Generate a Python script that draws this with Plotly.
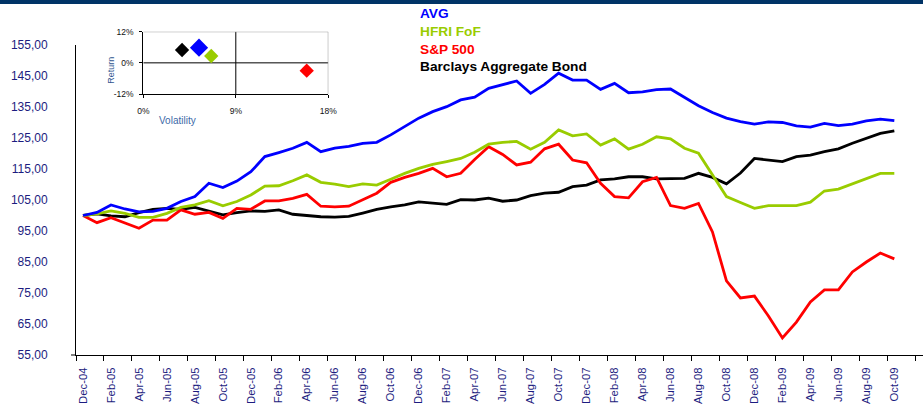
import plotly.graph_objects as go

# ---------------- data ----------------
tick_labels = ["Dec-04", "Feb-05", "Apr-05", "Jun-05", "Aug-05", "Oct-05", "Dec-05",
               "Feb-06", "Apr-06", "Jun-06", "Aug-06", "Oct-06", "Dec-06",
               "Feb-07", "Apr-07", "Jun-07", "Aug-07", "Oct-07", "Dec-07",
               "Feb-08", "Apr-08", "Jun-08", "Aug-08", "Oct-08", "Dec-08",
               "Feb-09", "Apr-09", "Jun-09", "Aug-09", "Oct-09", "Dec-09"]

avg = [100.0, 101.0, 103.4, 102.1, 101.2, 101.3, 102.3, 104.5, 106.1, 110.4,
       109.0, 111.1, 114.1, 119.0, 120.3, 121.7, 123.6, 120.6, 121.7, 122.3,
       123.3, 123.6, 126.0, 128.7, 131.4, 133.5, 135.1, 137.3, 138.2, 141.0,
       142.1, 143.4, 139.4, 142.3, 145.9, 143.7, 143.7, 140.7, 142.6, 139.6,
       139.9, 140.6, 140.8, 138.1, 135.4, 133.2, 131.4, 130.3, 129.5, 130.2,
       130.0, 128.9, 128.5, 129.7, 129.0, 129.5, 130.5, 131.1, 130.6]

hfri = [100.0, 100.5, 101.5, 100.7, 99.4, 99.4, 100.7, 102.6, 103.4, 104.8,
        103.1, 104.5, 106.6, 109.5, 109.6, 111.2, 113.1, 110.7, 110.1, 109.3,
        110.2, 109.8, 111.7, 113.6, 115.2, 116.5, 117.4, 118.4, 120.4, 123.0,
        123.6, 123.9, 121.4, 123.6, 127.6, 125.7, 126.3, 122.7, 124.7, 121.4,
        123.0, 125.4, 124.7, 121.7, 120.1, 113.1, 106.1, 104.2, 102.3, 103.2,
        103.1, 103.2, 104.3, 107.9, 108.5, 110.2, 111.7, 113.6, 113.6]

sp500 = [100.0, 97.7, 99.3, 97.5, 95.9, 98.5, 98.5, 101.8, 100.4, 101.0,
         99.1, 102.3, 102.0, 104.7, 104.7, 105.5, 106.8, 103.0, 102.8, 103.0,
         105.0, 107.2, 110.7, 112.3, 113.6, 115.2, 112.5, 113.6, 118.1, 122.2,
         119.7, 116.3, 117.2, 121.5, 123.0, 117.9, 117.0, 110.4, 106.1, 105.7,
         110.9, 112.3, 103.2, 102.3, 103.9, 94.7, 78.9, 73.4, 74.0, 67.6,
         60.5, 65.6, 72.1, 76.0, 76.0, 81.8, 85.0, 87.9, 86.0]

barclays = [100.0, 100.5, 99.9, 99.6, 100.9, 102.0, 102.3, 102.0, 102.6, 101.5,
            100.2, 100.9, 101.5, 101.3, 101.8, 100.4, 99.9, 99.6, 99.5, 99.7,
            100.8, 102.0, 102.8, 103.4, 104.4, 103.9, 103.6, 105.1, 105.0, 105.6,
            104.6, 105.0, 106.4, 107.2, 107.5, 109.3, 109.8, 111.5, 111.8, 112.5,
            112.5, 111.8, 112.0, 112.0, 113.6, 112.3, 110.2, 113.7, 118.4, 117.9,
            117.4, 119.0, 119.5, 120.6, 121.5, 123.3, 124.9, 126.5, 127.3]

y_ticks = [55, 65, 75, 85, 95, 105, 115, 125, 135, 145, 155]
y_tick_text = ["55,00", "65,00", "75,00", "85,00", "95,00", "105,00",
               "115,00", "125,00", "135,00", "145,00", "155,00"]

# inset risk/return scatter (volatility %, return %)
risk_names = ["Barclays Aggregate Bond", "AVG", "HFRI FoF", "S&P 500"]
risk_vol = [3.77, 5.42, 6.61, 15.9]
risk_ret = [4.95, 5.84, 2.64, -3.0]

# ---------------- styling ----------------
FONT = "Liberation Sans, Arial, sans-serif"
NAVY = "#1c1c80"
colors = {"AVG": "#0000FF", "HFRI FoF": "#99CC00", "S&P 500": "#FF0000",
          "Barclays Aggregate Bond": "#000000"}
risk_colors = [colors[n] for n in risk_names]
risk_sizes = [11, 14, 11, 11]

W, H = 923, 405
L, R, T, B = 76, 0, 0, 50
PW, PH = W - L - R, H - T - B


def px(xpix):
    return (xpix - L) / PW


def py(ypix):
    return (H - B - ypix) / PH


x_idx = list(range(len(avg)))

fig = go.Figure()
series = [("AVG", avg), ("HFRI FoF", hfri), ("S&P 500", sp500),
          ("Barclays Aggregate Bond", barclays)]
for name, vals in reversed(series):
    fig.add_trace(go.Scatter(x=x_idx, y=vals, mode="lines", name=name,
                             line=dict(color=colors[name], width=2.8),
                             xaxis="x", yaxis="y", showlegend=False))

fig.add_trace(go.Scatter(x=risk_vol, y=risk_ret, mode="markers",
                         marker=dict(symbol="diamond", size=risk_sizes, opacity=1,
                                     color=risk_colors, line=dict(width=0)),
                         xaxis="x2", yaxis="y2", showlegend=False))

fig.update_layout(
    width=W, height=H,
    margin=dict(l=L, r=R, t=T, b=B),
    paper_bgcolor="white", plot_bgcolor="white",
    template="none",
    font=dict(family=FONT),
    xaxis=dict(domain=[0, 1], range=[-0.5, 60.05], showgrid=False, zeroline=False,
               showline=True, linecolor="black", linewidth=1,
               tickmode="array", tickvals=list(range(0, 61, 2)), ticktext=tick_labels,
               tickangle=-90, ticks="", ticklabelstandoff=7,
               tickfont=dict(family=FONT, size=11.3, color=NAVY),
               minor=dict(ticks="outside", ticklen=5, tickcolor="black", tickwidth=1,
                          tick0=-0.5, dtick=2, showgrid=False),
               automargin=False, fixedrange=True),
    yaxis=dict(domain=[0, 310 / PH], range=[55, 155], showgrid=False, zeroline=False,
               showline=True, linecolor="black", linewidth=1,
               tickmode="array", tickvals=y_ticks, ticktext=y_tick_text,
               ticks="", ticklabelstandoff=25,
               tickfont=dict(family=FONT, size=12, color=NAVY),
               automargin=False, fixedrange=True),
    xaxis2=dict(domain=[px(143.3), px(328.3)], anchor="y2", range=[0, 18],
                showgrid=False, zeroline=False, showline=True, linecolor="black",
                linewidth=1, tickmode="array", tickvals=[0, 9, 18],
                ticktext=["0%", "9%", "18%"], ticks="outside", ticklen=3,
                tickcolor="black", ticklabelstandoff=6,
                tickfont=dict(family=FONT, size=8.5, color="#111111"),
                automargin=False, fixedrange=True),
    yaxis2=dict(domain=[py(94), py(31.7)], anchor="x2", range=[-12, 12],
                showgrid=False, zeroline=False, showline=True, linecolor="black",
                linewidth=1, tickmode="array", tickvals=[-12, 0, 12],
                ticktext=["-12%", "0%", "12%"], ticks="outside", ticklen=3,
                tickcolor="black", ticklabelstandoff=4,
                tickfont=dict(family=FONT, size=8.5, color="#111111"),
                automargin=False, fixedrange=True),
)

shapes = [
    # top navy band
    dict(type="rect", xref="paper", yref="paper", x0=px(0), x1=px(W),
         y0=py(4), y1=py(0), fillcolor="#003366", line=dict(width=0), layer="above"),
    # inset frame top/right (grey)
    dict(type="line", xref="x2", yref="y2", x0=0, x1=18, y0=12, y1=12,
         line=dict(color="#8c8c8c", width=1)),
    dict(type="line", xref="x2", yref="y2", x0=18, x1=18, y0=-12, y1=12,
         line=dict(color="#8c8c8c", width=1)),
    # inset cross lines
    dict(type="line", xref="x2", yref="y2", x0=0, x1=18, y0=0, y1=0,
         line=dict(color="black", width=1), layer="below"),
    dict(type="line", xref="x2", yref="y2", x0=9, x1=9, y0=-12, y1=12,
         line=dict(color="black", width=1), layer="below"),
    # small stub left of y-axis at the bottom
    dict(type="line", xref="paper", yref="paper", x0=px(71), x1=px(76),
         y0=0, y1=0, line=dict(color="black", width=1)),
]
fig.update_layout(shapes=shapes)

annotations = []
legend_y = [13.5, 31.5, 49.3, 66.8]
for (name, _), ly in zip(series, legend_y):
    annotations.append(dict(xref="paper", yref="paper", x=px(418), y=py(ly),
                            xanchor="left", yanchor="middle", showarrow=False,
                            text="<b>%s</b>" % name,
                            font=dict(family=FONT, size=13.7, color=colors[name])))
annotations.append(dict(xref="paper", yref="paper", x=px(110.7), y=py(70),
                        xanchor="center", yanchor="middle", showarrow=False,
                        text="Return", textangle=-90,
                        font=dict(family=FONT, size=9, color="#2f5590")))
annotations.append(dict(xref="paper", yref="paper", x=px(177.3), y=py(120),
                        xanchor="center", yanchor="middle", showarrow=False,
                        text="Volatility",
                        font=dict(family=FONT, size=10, color="#3d6aa8")))
fig.update_layout(annotations=annotations)

fig.write_html("out.html",
               config={"displayModeBar": False, "staticPlot": True},
               post_script="document.body.style.margin='0';"
                           "document.body.style.padding='0';"
                           "document.documentElement.style.margin='0';")
